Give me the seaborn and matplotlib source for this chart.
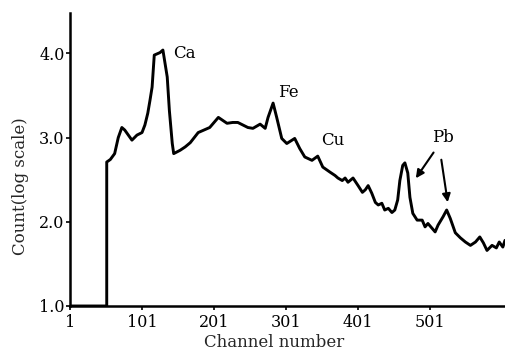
import matplotlib
matplotlib.use("Agg")
import matplotlib.pyplot as plt
import seaborn as sns
import pandas as pd

channels = [1, 52, 52, 57, 63, 68, 73, 77, 87, 94, 101, 105, 109, 112, 115, 118, 126, 130,
            136, 139, 143, 145, 154, 161, 168, 179, 195, 207, 219, 227, 234, 248, 255,
            265, 272, 276, 283, 288, 295, 302, 313, 320, 327, 337, 345, 352, 362, 369,
            373, 379, 383, 387, 394, 401, 407, 411, 415, 420, 425, 429, 434, 438, 443,
            448, 452, 456, 459, 463, 466, 470, 473, 477, 483, 490, 494, 498, 504, 508,
            512, 519, 524, 529, 536, 543, 550, 557, 564, 570, 575, 580, 587, 593, 597,
            602, 605]
counts = [1.0, 1.0, 2.71, 2.74, 2.81, 3.00, 3.12, 3.09, 2.97, 3.03, 3.06, 3.15, 3.29, 3.44,
          3.60, 3.98, 4.01, 4.04, 3.72, 3.32, 2.93, 2.81, 2.85, 2.89, 2.94, 3.06, 3.12,
          3.24, 3.17, 3.18, 3.18, 3.12, 3.11, 3.16, 3.11, 3.24, 3.41, 3.24, 2.99, 2.93,
          2.99, 2.87, 2.77, 2.73, 2.78, 2.65, 2.59, 2.55, 2.52, 2.49, 2.52, 2.47, 2.52,
          2.43, 2.35, 2.38, 2.43, 2.34, 2.23, 2.20, 2.22, 2.14, 2.16, 2.11, 2.14, 2.26,
          2.49, 2.67, 2.70, 2.58, 2.29, 2.10, 2.02, 2.02, 1.94, 1.98, 1.92, 1.88, 1.96,
          2.06, 2.14, 2.04, 1.87, 1.81, 1.76, 1.72, 1.76, 1.82, 1.75, 1.66, 1.72, 1.69,
          1.76, 1.70, 1.78]

x_ticks = [1, 101, 201, 301, 401, 501]
y_ticks = [1.0, 2.0, 3.0, 4.0]
y_tick_labels = ["1.0", "2.0", "3.0", "4.0"]

peak_labels = ["Ca", "Fe", "Cu", "Pb"]
peak_label_x = [144, 290, 350, 504]
peak_label_y = [4.0, 3.53, 2.96, 3.0]

df = pd.DataFrame({"Channel number": channels, "Count": counts})

sns.set_style("ticks")
plt.rcParams["font.family"] = ["DejaVu Serif"]

fig = plt.figure(figsize=(5.05, 3.54), dpi=100)
ax = fig.add_axes([70 / 505, 48 / 354, 435 / 505, 293 / 354])

sns.lineplot(data=df, x="Channel number", y="Count", ax=ax, color="black",
             linewidth=2.1, sort=False, estimator=None)

ax.set_xlim(1, 605)
ax.set_ylim(1.0, 4.48)
ax.set_xticks(x_ticks)
ax.set_xticklabels([str(t) for t in x_ticks])
ax.set_yticks(y_ticks)
ax.set_yticklabels(y_tick_labels)
ax.set_xlabel("Channel number", fontsize=12)
ax.set_ylabel("Count(log scale)", fontsize=12)
ax.xaxis.set_label_coords(0.47, -0.097)
ax.yaxis.set_label_coords(-0.095, 0.41)
ax.tick_params(axis="both", direction="out", length=3, width=1.2, labelsize=11.5,
               color="black", labelcolor="black")
ax.tick_params(axis="x", pad=3)
ax.tick_params(axis="y", pad=1)

for side in ["top", "right"]:
    ax.spines[side].set_visible(False)
for side in ["left", "bottom"]:
    ax.spines[side].set_linewidth(1.8)
    ax.spines[side].set_color("black")

for lab, lx, ly in zip(peak_labels, peak_label_x, peak_label_y):
    ax.text(lx, ly, lab, fontsize=12, ha="left", va="center", color="black")

ax.annotate("", xy=(479, 2.49), xytext=(508, 2.85),
            arrowprops=dict(arrowstyle="-|>", color="black", lw=1.5, mutation_scale=12))
ax.annotate("", xy=(526, 2.20), xytext=(516, 2.77),
            arrowprops=dict(arrowstyle="-|>", color="black", lw=1.5, mutation_scale=12))

fig.savefig("out.png", dpi=100)
